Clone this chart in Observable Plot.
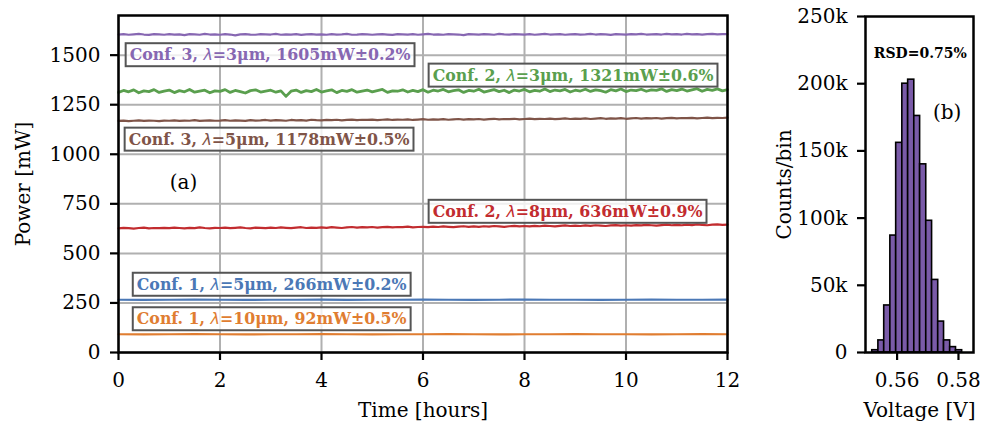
<!DOCTYPE html>
<html>
<head>
<meta charset="utf-8">
<script src="https://cdn.jsdelivr.net/npm/d3@7"></script>
<script src="https://cdn.jsdelivr.net/npm/@observablehq/plot@0.6"></script>
<style>
  body { margin: 0; background: #fff; }
  #fig { position: relative; width: 984px; height: 423px; overflow: hidden; }
  #fig > svg { position: absolute; top: 0; }
</style>
</head>
<body>
<div id="fig"></div>
<script>
// ---- Long-term power logs (mW), one sample every 0.1 h over 12 h ----
const conf3_3um = [
  1604,1606,1603,1605,1607,1604,1602,1606,1605,1603,
  1606,1604,1605,1601,1606,1605,1603,1607,1604,1605,
  1603,1606,1604,1600,1605,1606,1604,1603,1606,1605,
  1604,1607,1603,1605,1604,1606,1602,1605,1606,1604,
  1605,1603,1606,1604,1605,1607,1603,1604,1606,1605,
  1603,1605,1606,1604,1602,1606,1605,1604,1606,1603,
  1605,1607,1604,1605,1603,1606,1605,1604,1601,1606,
  1605,1604,1606,1605,1603,1607,1605,1604,1606,1605,
  1604,1606,1603,1605,1607,1604,1605,1606,1603,1605,
  1606,1604,1605,1607,1604,1606,1605,1602,1606,1605,
  1604,1606,1605,1607,1604,1605,1606,1604,1607,1605,
  1606,1604,1607,1605,1606,1604,1606,1607,1605,1606,
  1606
];
const conf2_3um = [
  1312,1322,1315,1325,1310,1320,1316,1326,1312,1319,
  1324,1311,1321,1315,1327,1313,1318,1323,1310,1320,
  1317,1326,1312,1322,1316,1309,1321,1325,1314,1319,
  1323,1313,1320,1292,1318,1324,1312,1321,1316,1327,
  1314,1320,1325,1311,1322,1317,1326,1313,1319,1324,
  1315,1321,1327,1312,1320,1318,1325,1314,1322,1316,
  1326,1313,1323,1319,1327,1315,1321,1325,1312,1322,
  1318,1328,1314,1320,1326,1316,1323,1311,1324,1319,
  1327,1315,1322,1318,1329,1316,1324,1320,1327,1314,
  1323,1319,1328,1317,1325,1321,1313,1326,1320,1329,
  1316,1324,1321,1328,1318,1325,1322,1330,1317,1326,
  1321,1329,1319,1325,1331,1318,1327,1322,1330,1320,
  1326
];
const conf3_5um = [
  1168,1170,1167,1169,1171,1168,1170,1169,1167,1170,
  1169,1171,1168,1170,1169,1172,1168,1170,1171,1169,
  1170,1172,1169,1171,1170,1168,1172,1170,1171,1173,
  1170,1172,1171,1169,1173,1171,1172,1170,1174,1172,
  1171,1173,1172,1174,1171,1173,1175,1172,1174,1173,
  1175,1172,1174,1176,1173,1175,1174,1176,1173,1175,
  1177,1174,1176,1175,1177,1174,1176,1178,1175,1177,
  1176,1178,1175,1177,1179,1176,1178,1177,1179,1176,
  1178,1180,1177,1179,1178,1180,1177,1179,1181,1178,
  1180,1179,1181,1178,1180,1182,1179,1181,1180,1182,
  1179,1181,1183,1180,1182,1181,1183,1180,1182,1184,
  1181,1183,1182,1184,1181,1183,1185,1182,1184,1183,
  1185
];
const conf2_8um = [
  626,629,627,625,628,630,626,628,627,629,
  627,630,628,626,629,627,631,628,626,629,
  628,630,627,629,631,628,626,630,629,627,
  630,628,631,629,627,630,632,628,630,629,
  631,629,632,630,628,631,633,630,632,631,
  633,630,632,634,631,633,632,635,631,633,
  634,632,635,633,636,634,632,635,637,634,
  636,634,637,635,638,636,634,637,639,636,
  638,636,639,637,640,638,636,639,641,638,
  640,638,641,639,642,640,638,641,643,640,
  642,640,643,641,644,642,640,643,645,642,
  644,642,645,643,646,644,642,645,646,644,
  645
];
// one sample every 0.5 h
const conf1_5um = [
  266,265,266,267,266,265,266,266,267,265,266,266,267,
  266,265,266,267,266,266,265,266,267,266,266,267
];
const conf1_10um = [
  92,91,92,93,92,91,92,92,93,92,91,92,92,
  93,92,91,92,92,93,92,92,91,92,93,92
];

const seriesKeys = ["c3_3", "c2_3", "c3_5", "c2_8", "c1_5", "c1_10"];
const seriesColors = ["#8767b2", "#5a9f4e", "#7f5448", "#c22c2f", "#4b78b6", "#e07d31"];
const seriesLabels = [
  "Conf. 3, λ=3μm, 1605mW±0.2%",
  "Conf. 2, λ=3μm, 1321mW±0.6%",
  "Conf. 3, λ=5μm, 1178mW±0.5%",
  "Conf. 2, λ=8μm, 636mW±0.9%",
  "Conf. 1, λ=5μm, 266mW±0.2%",
  "Conf. 1, λ=10μm, 92mW±0.5%"
];
const seriesValues = [conf3_3um, conf2_3um, conf3_5um, conf2_8um, conf1_5um, conf1_10um];

const timeTicks = [0, 2, 4, 6, 8, 10, 12];
const powerTicks = [0, 250, 500, 750, 1000, 1250, 1500];

// ---- Detector voltage histogram ----
const binEdges = [0.5519, 0.5539, 0.5558, 0.5578, 0.5597, 0.5617, 0.5636, 0.5656,
                  0.5675, 0.5695, 0.5714, 0.5734, 0.5753, 0.5773, 0.5792, 0.5812];
const binCounts = [1700, 9000, 35000, 87000, 156000, 200000, 203000, 176000,
                   140000, 98000, 54000, 23000, 9000, 4000, 1700];
const voltageTicks = [0.56, 0.58];
const countTicks = [0, 50000, 100000, 150000, 200000, 250000];

// ---- assemble tidy rows for the marks ----
const lineRows = seriesValues.flatMap((vals, k) => {
  const step = 12 / (vals.length - 1);
  return vals.map((p, i) => ({series: seriesKeys[k], t: i * step, p}));
});

// where each curve label sits (hours, mW), left-aligned
const labelSpots = [
  {x: 0.22, y: 1500},
  {x: 6.19, y: 1397},
  {x: 0.20, y: 1074},
  {x: 6.19, y: 710},
  {x: 0.36, y: 342},
  {x: 0.36, y: 168}
];
const labelRows = seriesKeys.map((s, k) => ({series: s, text: seriesLabels[k], ...labelSpots[k]}));

const histRows = binCounts.map((c, i) => ({x1: binEdges[i], x2: binEdges[i + 1], c}));

const baseStyle = {fontFamily: "'DejaVu Serif', serif", fontSize: "20px", color: "black", background: "transparent", overflow: "visible"};
const fig = document.getElementById("fig");

const left = Plot.plot({
  width: 760, height: 423,
  marginLeft: 118, marginRight: 33, marginTop: 15, marginBottom: 71,
  style: baseStyle,
  x: {domain: [0, 12]},
  y: {domain: [0, 1700]},
  color: {type: "ordinal", domain: seriesKeys, range: seriesColors},
  marks: [
    Plot.gridX(timeTicks, {stroke: "#b0b0b0", strokeOpacity: 1, strokeWidth: 2}),
    Plot.gridY(powerTicks, {stroke: "#b0b0b0", strokeOpacity: 1, strokeWidth: 2}),
    Plot.line(lineRows, {x: "t", y: "p", z: "series", stroke: "series",
      strokeWidth: d => d.series === "c2_3" ? 2.8 : 2.2, strokeLinejoin: "round"}),
    Plot.text(labelRows, {x: "x", y: "y", text: "text", fill: "series", textAnchor: "start",
      fontWeight: "bold", fontSize: 15.8, className: "curve-label"}),
    Plot.text(["(a)"], {x: 1.28, y: 857, text: d => d, fontSize: 20}),
    Plot.axisX(timeTicks, {tickSize: 8, strokeWidth: 2.2, tickPadding: 12, tickFormat: d => String(d),
      label: "Time [hours]", labelArrow: "none", labelAnchor: "center", labelOffset: 64}),
    Plot.axisY(powerTicks, {tickSize: 8, strokeWidth: 2.2, tickPadding: 10, tickFormat: d => String(d),
      label: "Power [mW]", labelArrow: "none", labelAnchor: "center", labelOffset: 103}),
    Plot.frame({stroke: "black", strokeWidth: 2.5})
  ]
});
left.style.left = "0px";
fig.appendChild(left);

const right = Plot.plot({
  width: 224, height: 423,
  marginLeft: 105, marginRight: 11, marginTop: 16, marginBottom: 71,
  style: baseStyle,
  x: {domain: [0.5497, 0.5849]},
  y: {domain: [0, 250000]},
  marks: [
    Plot.rectY(histRows, {x1: "x1", x2: "x2", y: "c", fill: "#7a5ba8", stroke: "black", strokeWidth: 1.6}),
    Plot.text(["RSD=0.75%"], {x: 0.56756, y: 222700, text: d => d, fontWeight: "bold", fontSize: 14}),
    Plot.text(["(b)"], {x: 0.57633, y: 178700, text: d => d, fontSize: 20}),
    Plot.axisX(voltageTicks, {tickSize: 8, strokeWidth: 2.2, tickPadding: 12,
      label: "Voltage [V]", labelArrow: "none", labelAnchor: "center", labelOffset: 64}),
    Plot.axisY(countTicks, {tickSize: 8, strokeWidth: 2.2, tickPadding: 10,
      tickFormat: d => d === 0 ? "0" : d / 1000 + "k",
      label: "Counts/bin", labelArrow: "none", labelAnchor: "center", labelOffset: 89}),
    Plot.frame({stroke: "black", strokeWidth: 2.5})
  ]
});
right.style.left = "760px";
fig.appendChild(right);

// boxed curve labels with an italic lambda
left.querySelectorAll(".curve-label text").forEach(node => {
  const parts = node.textContent.split("λ");
  node.textContent = "";
  parts.forEach((part, i) => {
    if (i > 0) {
      const lam = document.createElementNS("http://www.w3.org/2000/svg", "tspan");
      lam.textContent = "λ";
      lam.setAttribute("font-style", "italic");
      lam.setAttribute("font-weight", "normal");
      lam.setAttribute("font-family", "'DejaVu Sans', sans-serif");
      node.appendChild(lam);
    }
    const t = document.createElementNS("http://www.w3.org/2000/svg", "tspan");
    t.textContent = part;
    node.appendChild(t);
  });
  const bb = node.getBBox();
  const rect = document.createElementNS("http://www.w3.org/2000/svg", "rect");
  rect.setAttribute("x", bb.x - 4);
  rect.setAttribute("y", bb.y - 2);
  rect.setAttribute("width", bb.width + 8);
  rect.setAttribute("height", bb.height + 4);
  rect.setAttribute("fill", "white");
  rect.setAttribute("fill-opacity", 0.8);
  rect.setAttribute("stroke", "#555");
  rect.setAttribute("stroke-width", 2);
  if (node.getAttribute("transform")) rect.setAttribute("transform", node.getAttribute("transform"));
  node.parentNode.insertBefore(rect, node);
});
</script>
</body>
</html>
